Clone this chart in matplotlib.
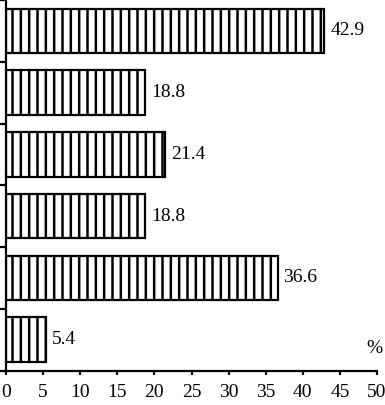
import matplotlib
matplotlib.use("Agg")
import matplotlib.pyplot as plt

# values top to bottom
values = [42.9, 18.8, 21.4, 18.8, 36.6, 5.4]
value_labels = ["42.9", "18.8", "21.4", "18.8", "36.6", "5.4"]
x_ticks = [0, 5, 10, 15, 20, 25, 30, 35, 40, 45, 50]

plt.rcParams["font.family"] = "Liberation Serif"
plt.rcParams["hatch.linewidth"] = 1.8

fig = plt.figure(figsize=(3.85, 4.05), dpi=100)
ax = fig.add_axes([6 / 385, (405 - 370.5) / 405, (377 - 6) / 385, 370.5 / 405])

pos = list(range(len(values)))
ax.barh(pos, values, height=0.72, color="white", edgecolor="black",
        linewidth=1.6, hatch="||")

for p, v, lab in zip(pos, values, value_labels):
    ax.text(v + 0.8, p, lab, va="center", ha="left", fontsize=14)

ax.text(49.6, 5.14, "%", ha="center", va="center", fontsize=14)

ax.set_xlim(0, 50)
ax.set_ylim(5.5, -0.5)
ax.set_xticks(x_ticks)
ax.set_xticklabels([str(t) for t in x_ticks], fontsize=14)
ax.set_yticks([p - 0.5 for p in pos] + [5.5])
ax.set_yticklabels([])

for side in ("top", "right"):
    ax.spines[side].set_visible(False)
for side in ("left", "bottom"):
    ax.spines[side].set_linewidth(1.6)
ax.tick_params(axis="x", direction="out", length=3, width=1.6, pad=7)
ax.tick_params(axis="y", direction="out", length=5, width=1.6)

fig.savefig("out.png", dpi=100)
